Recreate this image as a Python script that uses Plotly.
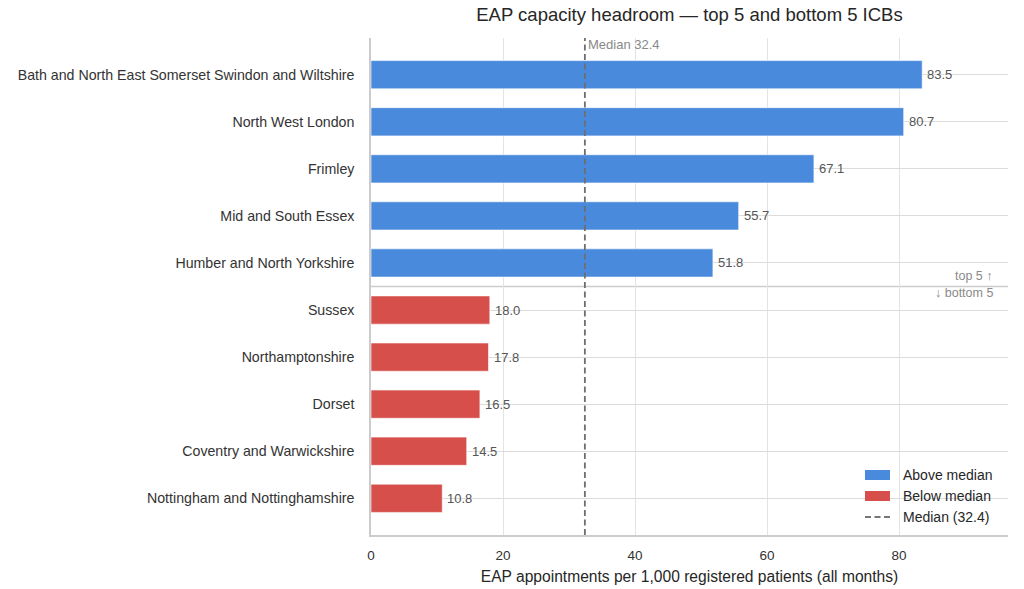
import plotly.graph_objects as go

categories = [
    "Bath and North East Somerset Swindon and Wiltshire",
    "North West London",
    "Frimley",
    "Mid and South Essex",
    "Humber and North Yorkshire",
    "Sussex",
    "Northamptonshire",
    "Dorset",
    "Coventry and Warwickshire",
    "Nottingham and Nottinghamshire",
]
values = [83.5, 80.7, 67.1, 55.7, 51.8, 18.0, 17.8, 16.5, 14.5, 10.8]
groups = ["Above median"] * 5 + ["Below median"] * 5
median = 32.4
x_ticks = [0, 20, 40, 60, 80]

BLUE = "#4a8adc"
RED = "#d64f4b"
FONT = "Liberation Sans, Arial, sans-serif"

fig = go.Figure()
for name, color in [("Above median", BLUE), ("Below median", RED)]:
    ys = [c for c, g in zip(categories, groups) if g == name]
    xs = [v for v, g in zip(values, groups) if g == name]
    fig.add_trace(go.Bar(
        x=xs, y=ys, orientation="h", name=name, width=0.6,
        marker=dict(color=color, line=dict(color="rgba(255,255,255,0.6)", width=1)),
        hoverinfo="x+y", showlegend=False,
    ))

# median line
fig.add_shape(type="line", x0=median, x1=median, xref="x", y0=0, y1=1, yref="paper",
              line=dict(color="#6e6e6e", width=1.8, dash="6px,3.5px"), layer="above")
fig.add_annotation(x=median, y=1, xref="x", yref="paper", text=f"Median {median}",
                   showarrow=False, xanchor="left", yanchor="top", xshift=1, yshift=3,
                   font=dict(family=FONT, size=13, color="#888888"))

# separator between top 5 and bottom 5
fig.add_shape(type="line", x0=0, x1=1, xref="paper", y0=4.5, y1=4.5, yref="y",
              line=dict(color="#cccccc", width=1.5), layer="below")
fig.add_annotation(x=0.979, xref="paper", y=4.5, yref="y", text="top 5 ↑",
                   showarrow=False, xanchor="right", yanchor="bottom", yshift=2,
                   font=dict(family=FONT, size=12.5, color="#8a8a8a"))
fig.add_annotation(x=0.979, xref="paper", y=4.5, yref="y", text="↓ bottom 5",
                   showarrow=False, xanchor="right", yanchor="top", yshift=3,
                   font=dict(family=FONT, size=12.5, color="#8a8a8a"))

# value labels
for c, v in zip(categories, values):
    fig.add_annotation(x=v, y=c, xref="x", yref="y", text=f"{v:.1f}",
                       showarrow=False, xanchor="left", xshift=3,
                       font=dict(family=FONT, size=13, color="#555555"))

# legend (drawn in paper coordinates)
legend_items = [("Above median", BLUE, "rect"), ("Below median", RED, "rect"),
                (f"Median ({median})", "#777777", "line")]
x0p, x1p, xtp = (865 - 371) / 637, (890 - 371) / 637, (901 - 371) / 637
for i, (label, color, kind) in enumerate(legend_items):
    yc = (535 - (475 + 21 * i)) / 497
    if kind == "rect":
        fig.add_shape(type="rect", xref="paper", yref="paper", x0=x0p, x1=x1p,
                      y0=yc - 5 / 497, y1=yc + 5 / 497,
                      fillcolor=color, line=dict(width=0), layer="above")
    else:
        fig.add_shape(type="line", xref="paper", yref="paper", x0=x0p, x1=x1p,
                      y0=yc, y1=yc, line=dict(color=color, width=1.8, dash="6px,3.5px"),
                      layer="above")
    fig.add_annotation(x=xtp, y=yc, xref="paper", yref="paper", text=label,
                       showarrow=False, xanchor="left", yanchor="middle",
                       font=dict(family=FONT, size=14, color="#262626"))

fig.update_layout(
    width=1024, height=589,
    margin=dict(l=371, r=16, t=38, b=54),
    paper_bgcolor="white", plot_bgcolor="white",
    font=dict(family=FONT, color="#333333"),
    title=dict(text="EAP capacity headroom — top 5 and bottom 5 ICBs",
               x=(371 + 1008) / 2 / 1024, xanchor="center", y=1 - 15 / 589, yanchor="middle",
               font=dict(family=FONT, size=18.5, color="#262626")),
    barmode="overlay",
    showlegend=False,
)
fig.update_xaxes(
    range=[0, 96.5], tickvals=x_ticks, ticktext=[str(t) for t in x_ticks],
    showgrid=True, gridcolor="#e3e3e3", gridwidth=1, zeroline=False,
    showline=True, linecolor="#cccccc", linewidth=1.5, mirror=False,
    ticks="", ticklabelstandoff=7, automargin=False,
    tickfont=dict(family=FONT, size=13.5, color="#333333"),
    title=dict(text="EAP appointments per 1,000 registered patients (all months)",
               font=dict(family=FONT, size=15.6, color="#262626"), standoff=9),
)
fig.update_yaxes(
    type="category", categoryorder="array", categoryarray=categories,
    range=[9.78, -0.78], automargin=False,
    showgrid=True, gridcolor="#dcdcdc", gridwidth=1, zeroline=False,
    showline=True, linecolor="#cccccc", linewidth=1.5,
    ticks="", ticklabelstandoff=12,
    tickfont=dict(family=FONT, size=14.2, color="#333333"),
)

fig.write_html("out.html")
